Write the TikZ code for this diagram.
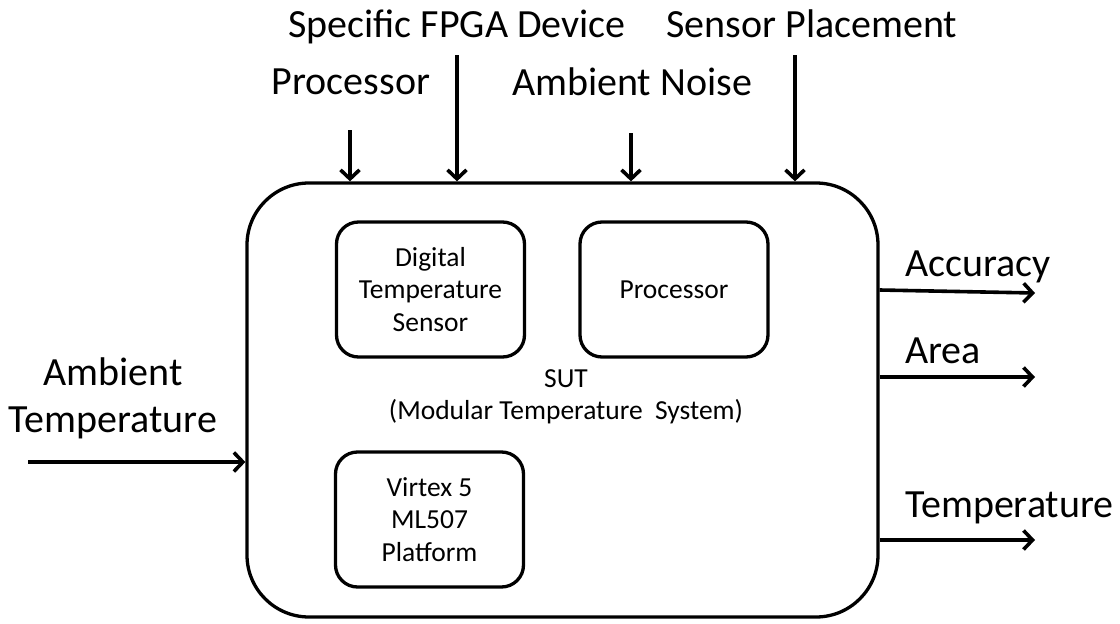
\documentclass[tikz,border=0pt]{standalone}
\usepackage{fontspec}
\setmainfont{Carlito}
\usetikzlibrary{positioning}
\usetikzlibrary{arrows.meta}

\begin{document}
\begin{tikzpicture}[x=1pt,y=-1pt,
                blk/.style={draw, line width=3.3pt, rounded corners=22pt, align=center,
                    minimum width=188pt, minimum height=135pt, inner sep=0pt,
                    font=\fontsize{27.5}{32.5}\selectfont},
                lbl/.style={align=center, inner sep=0pt, font=\fontsize{40}{47}\selectfont},
                arr/.style={line width=3.6pt, -{Straight Barb[length=9pt,width=19pt,line width=3.6pt]}}]
                \useasboundingbox (0,0) rectangle (1120,624);
                % system under test
                \node[blk, minimum width=631pt, minimum height=434pt, rounded corners=62pt] (sut) at (562.5,400) {};
                \node[blk] (sensor) at (430.5,289.5) {Digital\\Temperature\\Sensor};
                \node[blk] (proc) at (674,289.5) {Processor};
                \node[blk] (virtex) at (429.5,519.5) {Virtex 5\\ML507\\Platform};
                \node[align=center, inner sep=0pt, font=\fontsize{27.5}{32.5}\selectfont] (title) at (566,397) {SUT\\(Modular Temperature\ \ System)};
                % inputs
                \node[lbl, anchor=base] (fpga) at (457,37) {Specific FPGA Device};
                \node[lbl, anchor=base] (place) at (812,37) {Sensor Placement};
                \node[lbl, anchor=base] (procin) at (351,94) {Processor};
                \node[lbl, anchor=base] (noise) at (632,95) {Ambient Noise};
                \node[lbl] (ambtemp) at (113,398) {Ambient\\Temperature};
                \coordinate (fpgatop) at (457,55);
                \coordinate (placetop) at (795,55);
                \coordinate (proctop) at (350,130);
                \coordinate (noisetop) at (631,133);
                \coordinate (ambleft) at (28,462);
                \draw[arr] (fpgatop) -- (sut.north -| fpgatop);
                \draw[arr] (placetop) -- (sut.north -| placetop);
                \draw[arr] (proctop) -- (sut.north -| proctop);
                \draw[arr] (noisetop) -- (sut.north -| noisetop);
                \draw[arr] (ambleft) -- (sut.west |- ambleft);
                % outputs
                \node[lbl, anchor=west] (acc) at (905,267) {Accuracy};
                \node[lbl, anchor=west] (area) at (905,351) {Area};
                \node[lbl, anchor=west] (tempout) at (905,508) {Temperature};
                \coordinate (accend) at (1035,293);
                \coordinate (areaend) at (1035,377);
                \coordinate (tempend) at (1035,540);
                \draw[arr] (sut.east |- 0,290) -- (accend);
                \draw[arr] (sut.east |- areaend) -- (areaend);
                \draw[arr] (sut.east |- tempend) -- (tempend);
            \end{tikzpicture}
\end{document}
